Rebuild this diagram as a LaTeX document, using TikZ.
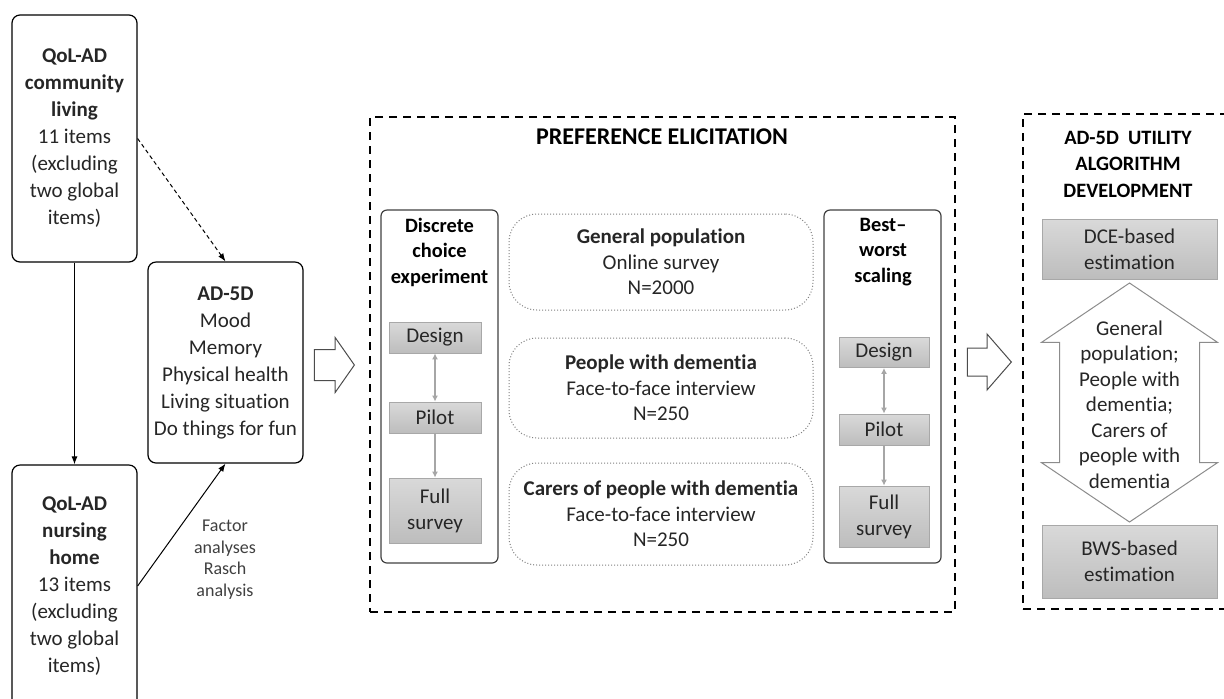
\documentclass[tikz,border=0pt]{standalone}
\usepackage{fontspec}
\setmainfont{Carlito}[Ligatures=NoCommon]
\usetikzlibrary{shapes.arrows}
\usetikzlibrary{arrows.meta}
\definecolor{inkgrey}{HTML}{262626}
\definecolor{stagetop}{HTML}{D9D9D9}
\definecolor{stagebottom}{HTML}{BDBDBD}
\definecolor{stageedge}{HTML}{A8A8A8}
\tikzset{%
    every node/.style={%
        text=inkgrey,%
        align=center,%
        inner sep=0pt%
    },%
    qolbox/.style={%
        draw=black,%
        line width=0.6pt,%
        rounded corners=4pt,%
        minimum width=62.5pt,%
        font=\fontsize{10.5}{13.5}\selectfont%
    },%
    methodbox/.style={%
        draw=black!75,%
        line width=0.6pt,%
        rounded corners=3pt,%
        minimum width=58.5pt,%
        minimum height=176.5pt%
    },%
    methodtitle/.style={%
        text=black,%
        font=\bfseries\fontsize{10.2}{12.75}\selectfont%
    },%
    stagebox/.style={%
        draw=stageedge,%
        line width=0.4pt,%
        top color=stagetop,%
        bottom color=stagebottom,%
        font=\fontsize{10.5}{13}\selectfont%
    },%
    samplebox/.style={%
        draw=black!50,%
        densely dotted,%
        line width=0.5pt,%
        rounded corners=14pt,%
        minimum width=152pt,%
        font=\fontsize{10.5}{12.75}\selectfont%
    },%
    phaseframe/.style={%
        draw=black,%
        line width=1.1pt,%
        dash pattern=on 4.2pt off 2.8pt%
    },%
    frametitle/.style={%
        text=black,%
        font=\bfseries\fontsize{12}{13.25}\selectfont%
    },%
    flowline/.style={%
        draw=black,%
        line width=0.5pt,%
        -{Latex[length=4pt,width=3pt]}%
    },%
    stageline/.style={%
        draw=black!35,%
        line width=0.6pt%
    },%
    hollowarrow/.style={%
        draw=black!70,%
        fill=white,%
        line width=0.5pt,%
        single arrow,%
        inner xsep=0pt%
    }%
}

\begin{document}
\begin{tikzpicture}[x=0.5pt, y=-0.5pt]
    \useasboundingbox (0,0) rectangle (1224,698);
    \clip (0,0) rectangle (1224,698);
    % source questionnaires
    \node[qolbox, minimum height=123.5pt] (qolcl) at (74.5,138.5) {%
        \textbf{QoL-AD}\\\textbf{community}\\\textbf{living}\\
        11 items\\(excluding\\two global\\items)};
    \node[qolbox, minimum height=121pt] (qolnh) at (74.5,586) {%
        \textbf{QoL-AD}\\\textbf{nursing}\\\textbf{home}\\
        13 items\\(excluding\\two global\\items)};
    \node[qolbox, minimum width=77.5pt, minimum height=100.5pt] (ad5d) at (225.5,362.5) {%
        \textbf{AD-5D}\\Mood\\Memory\\Physical health\\
        Living situation\\Do things for fun};
    \node[font=\fontsize{9}{10.8}\selectfont, text=black!75] (analyses) at (225,559.5) {%
        Factor\\analyses\\Rasch\\analysis};
    \draw[flowline, dash pattern=on 2pt off 1.5pt] (qolcl.east) -- (ad5d.north);
    \draw[flowline] (qolcl) -- (qolnh);
    \draw[flowline] (qolnh.east) -- (ad5d.south);

    % preference elicitation
    \node[hollowarrow, inner ysep=7.5pt, minimum height=20pt, minimum width=27pt,
        single arrow head extend=6pt, single arrow tip angle=110,
        anchor=tip] (toelicit) at (355,365) {};
    \node[phaseframe, minimum width=292.5pt, minimum height=247.5pt] (elicit) at (662.5,364.5) {};
    \node[frametitle] (elicittitle) at (662,137) {PREFERENCE ELICITATION};

    \node[methodbox] (dce) at (439.5,386.5) {};
    \node[methodtitle] (dcetitle) at (439.5,252) {Discrete\\choice\\experiment};
    \node[stagebox, minimum width=46pt, minimum height=15.5pt] (dcedesign) at (435,337.5) {Design};
    \node[stagebox, minimum width=46pt, minimum height=15.5pt] (dcepilot) at (435,417.5) {Pilot};
    \node[stagebox, minimum width=46pt, minimum height=32.5pt] (dcefull) at (435,510.5) {Full\\survey};
    \draw[stageline, {Latex[length=3pt,width=3pt]}-{Latex[length=3pt,width=3pt]}] (dcedesign) -- (dcepilot);
    \draw[stageline, -{Latex[length=3pt,width=3pt]}] (dcepilot) -- (dcefull);

    \node[samplebox, minimum height=48pt] (genpop) at (661,262) {%
        \textbf{General population}\\Online survey\\N=2000};
    \node[samplebox, minimum height=50pt] (pwd) at (661,388) {%
        \textbf{People with dementia}\\Face-to-face interview\\N=250};
    \node[samplebox, minimum height=51pt] (carers) at (661,514) {%
        \textbf{Carers of people with dementia}\\Face-to-face interview\\N=250};

    \node[methodbox] (bws) at (882.5,386.5) {};
    \node[methodtitle] (bwstitle) at (883,252) {Best--\\worst\\scaling};
    \node[stagebox, minimum width=45pt, minimum height=15pt] (bwsdesign) at (884,352.5) {Design};
    \node[stagebox, minimum width=45pt, minimum height=15.5pt] (bwspilot) at (884,429.5) {Pilot};
    \node[stagebox, minimum width=45pt, minimum height=30.5pt] (bwsfull) at (884,516.5) {Full\\survey};
    \draw[stageline, {Latex[length=3pt,width=3pt]}-{Latex[length=3pt,width=3pt]}] (bwsdesign) -- (bwspilot);
    \draw[stageline, -{Latex[length=3pt,width=3pt]}] (bwspilot) -- (bwsfull);

    % utility algorithm
    \node[hollowarrow, inner ysep=6.75pt, minimum height=22pt, minimum width=27.5pt,
        single arrow head extend=7pt, single arrow tip angle=98,
        anchor=tip] (toutility) at (1012,362) {};
    \node[phaseframe, minimum width=106pt, minimum height=247.5pt] (utilframe) at (1129,361.5) {};
    \node[frametitle, font=\bfseries\fontsize{10.2}{13.25}\selectfont] (utiltitle) at (1128,164) {%
        AD-5D\ \ UTILITY\\ALGORITHM\\DEVELOPMENT};
    \node[stagebox, minimum width=87.5pt, minimum height=30pt] (dcebased) at (1129.5,249) {%
        DCE-based\\estimation};
    \node[stagebox, minimum width=87.5pt, minimum height=36.5pt] (bwsbased) at (1129.5,561.5) {%
        BWS-based\\estimation};
    \node[draw=black!45, fill=white, line width=0.5pt, double arrow,
        shape border rotate=90, inner xsep=34.75pt, inner ysep=0pt,
        minimum height=119.5pt, minimum width=87.5pt,
        double arrow head extend=9pt, double arrow tip angle=112] (bothway) at (1129.5,402.5) {};
    \node[font=\fontsize{10.5}{12.75}\selectfont] (pooled) at (1129.5,404.5) {%
        General\\population;\\People with\\dementia;\\Carers of\\people with\\dementia};
\end{tikzpicture}
\end{document}
